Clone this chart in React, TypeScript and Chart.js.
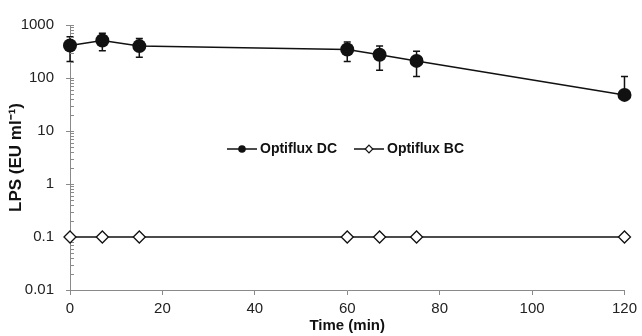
import React, { useEffect, useRef } from "react";
import { Chart, registerables } from "chart.js";

Chart.register(...registerables);

const times = [0, 7, 15, 60, 67, 75, 120];
const dcValues = [410, 510, 400, 345, 275, 210, 48];
const dcUpper = [600, 700, 555, 480, 400, 320, 107];
const dcLower: (number | null)[] = [205, 325, 245, 205, 140, 107, null];
const bcValues = [0.1, 0.1, 0.1, 0.1, 0.1, 0.1, 0.1];
const yTicks = [0.01, 0.1, 1, 10, 100, 1000];
const seriesNames = ["Optiflux DC", "Optiflux BC"];

const AXIS_COLOR = "#8a8a8a";
const INK = "#111111";
const FONT = "'Liberation Sans', Arial, sans-serif";

const errorBarPlugin = {
  id: "errorBars",
  beforeDatasetsDraw(chart: any) {
    const ctx = chart.ctx;
    const xs = chart.scales.x;
    const ys = chart.scales.y;
    ctx.save();
    ctx.strokeStyle = INK;
    ctx.lineWidth = 1.5;
    times.forEach((t, i) => {
      const x = xs.getPixelForValue(t);
      const yc = ys.getPixelForValue(dcValues[i]);
      const cap = 3.5;
      const up = dcUpper[i];
      const lo = dcLower[i];
      if (up != null) {
        const yu = ys.getPixelForValue(up);
        ctx.beginPath();
        ctx.moveTo(x, yc);
        ctx.lineTo(x, yu);
        ctx.moveTo(x - cap, yu);
        ctx.lineTo(x + cap, yu);
        ctx.stroke();
      }
      if (lo != null) {
        const yl = ys.getPixelForValue(lo);
        ctx.beginPath();
        ctx.moveTo(x, yc);
        ctx.lineTo(x, yl);
        ctx.moveTo(x - cap, yl);
        ctx.lineTo(x + cap, yl);
        ctx.stroke();
      }
    });
    ctx.restore();
  },
};

const yTickPlugin = {
  id: "yMinorTicks",
  beforeDatasetsDraw(chart: any) {
    const ctx = chart.ctx;
    const ys = chart.scales.y;
    const x0 = chart.chartArea.left;
    ctx.save();
    ctx.strokeStyle = AXIS_COLOR;
    ctx.lineWidth = 1;
    for (let d = 0; d < yTicks.length; d++) {
      const base = yTicks[d];
      const y = Math.round(ys.getPixelForValue(base)) + 0.5;
      ctx.beginPath();
      ctx.moveTo(x0 - 4, y);
      ctx.lineTo(x0 + 4, y);
      ctx.stroke();
      if (d < yTicks.length - 1) {
        for (let m = 2; m <= 9; m++) {
          const ym = Math.round(ys.getPixelForValue(base * m)) + 0.5;
          ctx.beginPath();
          ctx.moveTo(x0, ym);
          ctx.lineTo(x0 + 4, ym);
          ctx.stroke();
        }
      }
    }
    ctx.restore();
  },
};

const legendPlugin = {
  id: "innerLegend",
  afterDraw(chart: any) {
    const ctx = chart.ctx;
    const area = chart.chartArea;
    const y = 149;
    let x = area.left + 157;
    ctx.save();
    ctx.font = `bold 14px ${FONT}`;
    ctx.textBaseline = "middle";
    ctx.textAlign = "left";
    chart.data.datasets.forEach((ds: any, i: number) => {
      ctx.strokeStyle = INK;
      ctx.lineWidth = 1.5;
      ctx.beginPath();
      ctx.moveTo(x, y);
      ctx.lineTo(x + 30, y);
      ctx.stroke();
      const mx = x + 15;
      ctx.beginPath();
      if (i === 0) {
        ctx.arc(mx, y, 3.8, 0, Math.PI * 2);
        ctx.fillStyle = INK;
        ctx.fill();
      } else {
        const r = 3.8;
        ctx.moveTo(mx, y - r);
        ctx.lineTo(mx + r, y);
        ctx.lineTo(mx, y + r);
        ctx.lineTo(mx - r, y);
        ctx.closePath();
        ctx.fillStyle = "#ffffff";
        ctx.fill();
        ctx.lineWidth = 1.2;
        ctx.stroke();
      }
      ctx.fillStyle = INK;
      ctx.fillText(ds.label, x + 33, y);
      const w = ctx.measureText(ds.label).width;
      x += 33 + w + 17;
    });
    ctx.restore();
  },
};

export default function App() {
  const ref = useRef<HTMLCanvasElement | null>(null);

  useEffect(() => {
    if (!ref.current) return;
    const chart = new Chart(ref.current, {
      type: "line",
      data: {
        datasets: [
          {
            label: seriesNames[0],
            data: times.map((t, i) => ({ x: t, y: dcValues[i] })),
            borderColor: INK,
            backgroundColor: INK,
            borderWidth: 1.5,
            pointStyle: "circle",
            pointRadius: 7,
            pointBackgroundColor: INK,
            pointBorderColor: INK,
            pointBorderWidth: 0,
            clip: false,
          },
          {
            label: seriesNames[1],
            data: times.map((t, i) => ({ x: t, y: bcValues[i] })),
            borderColor: INK,
            backgroundColor: "#ffffff",
            borderWidth: 1.5,
            pointStyle: "rectRot",
            pointRadius: 6,
            pointBackgroundColor: "#ffffff",
            pointBorderColor: INK,
            pointBorderWidth: 1.3,
            clip: false,
          },
        ],
      },
      options: {
        animation: false,
        responsive: false,
        maintainAspectRatio: false,
        layout: { padding: { top: 21, right: 17, left: 0, bottom: 0 } },
        plugins: {
          legend: { display: false },
          tooltip: { enabled: false },
        },
        scales: {
          x: {
            type: "linear",
            min: 0,
            max: 120,
            ticks: {
              stepSize: 20,
              font: { size: 15, family: FONT },
              color: "#222",
              padding: 5,
              maxRotation: 0,
            },
            grid: {
              drawOnChartArea: false,
              drawTicks: true,
              tickLength: 5,
              color: AXIS_COLOR,
            },
            border: { color: AXIS_COLOR, width: 1 },
            title: {
              display: true,
              text: "Time (min)",
              font: { size: 15, weight: "bold", family: FONT },
              color: INK,
              padding: { top: 0, bottom: 1 },
            },
            afterFit: (s: any) => {
              s.height = 46;
            },
          },
          y: {
            type: "logarithmic",
            min: 0.01,
            max: 1000,
            afterBuildTicks: (s: any) => {
              s.ticks = yTicks.map((v) => ({ value: v, major: true }));
            },
            ticks: {
              font: { size: 15, family: FONT },
              color: "#222",
              padding: 16,
              callback: (v: any) => String(v),
            },
            grid: {
              drawOnChartArea: false,
              drawTicks: false,
            },
            border: { color: AXIS_COLOR, width: 1 },
            title: {
              display: true,
              text: "LPS (EU ml⁻¹)",
              font: { size: 17, weight: "bold", family: FONT },
              color: INK,
              padding: { top: 6, bottom: 0 },
            },
            afterFit: (s: any) => {
              s.width = 70;
            },
          },
        },
      },
      plugins: [errorBarPlugin, yTickPlugin, legendPlugin],
    });
    return () => chart.destroy();
  }, []);

  return (
    <div style={{ position: "fixed", left: 0, top: 0, width: 642, height: 336, background: "#fff" }}>
      <canvas ref={ref} width={642} height={336} style={{ display: "block", width: 642, height: 336 }} />
    </div>
  );
}
